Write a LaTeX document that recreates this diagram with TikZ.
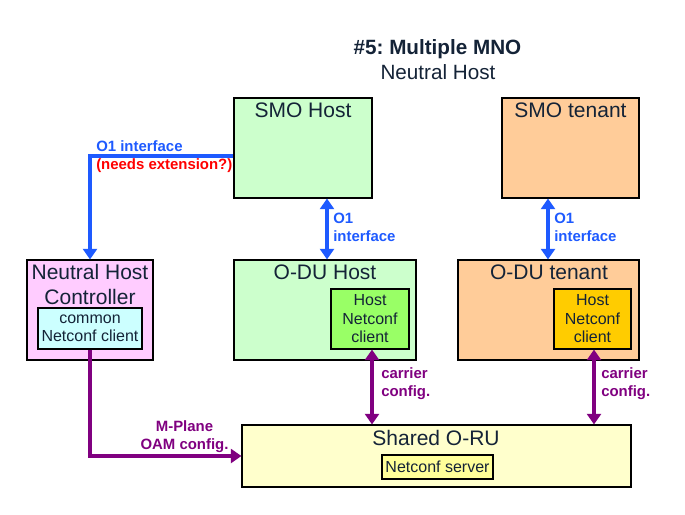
\documentclass[tikz,border=0pt]{standalone}
\usepackage{fontspec}
\setmainfont{Liberation Sans}
\usetikzlibrary{arrows.meta}
\frenchspacing
\definecolor{txt}{RGB}{20,35,55}
\definecolor{oblue}{RGB}{30,90,255}
\definecolor{ored}{RGB}{255,0,0}
\definecolor{opurple}{RGB}{128,0,128}
\definecolor{fsmo}{RGB}{204,255,204}
\definecolor{ften}{RGB}{255,204,153}
\definecolor{fnhc}{RGB}{255,204,255}
\definecolor{fcc}{RGB}{204,255,255}
\definecolor{fgreen}{RGB}{153,255,102}
\definecolor{fgold}{RGB}{255,204,0}
\definecolor{foru}{RGB}{255,255,204}
\definecolor{fsrv}{RGB}{255,255,153}
\tikzset{
  box/.style={draw=black, line width=0.8pt, inner sep=0pt, text=txt},
  inbox/.style={box, align=center, font=\fontsize{12}{13.9}\selectfont},
  btitle/.style={text=txt, align=center, inner sep=0pt, font=\fontsize{15.75}{18.75}\selectfont},
  lbl/.style={inner sep=0pt, align=left, anchor=west, font=\fontsize{11.2}{13.5}\selectfont\bfseries},
  bluearrow/.style={draw=oblue, line width=3pt, -{Triangle[width=10.5pt,length=8pt]}},
  bluedbl/.style={draw=oblue, line width=3pt, {Triangle[width=10.5pt,length=8pt]}-{Triangle[width=10.5pt,length=8pt]}},
  purplearrow/.style={draw=opurple, line width=3pt, -{Triangle[width=10.5pt,length=8pt]}},
  purpledbl/.style={draw=opurple, line width=3pt, {Triangle[width=10.5pt,length=8pt]}-{Triangle[width=10.5pt,length=8pt]}},
}
\begin{document}
\begin{tikzpicture}[x=0.75pt,y=-0.75pt]
\useasboundingbox (0,0) rectangle (685,514);
% title
\node[btitle, font=\fontsize{15.5}{18}\selectfont\bfseries] (t1) at (437.5,49) {\#5: Multiple MNO};
\node[btitle, font=\fontsize{15.5}{18}\selectfont] (t2) at (438,72) {Neutral Host};
% boxes
\node[box, fill=fsmo, minimum width=103.5pt, minimum height=75pt] (smoh) at (303,148) {};
\node[box, fill=ften, minimum width=102.75pt, minimum height=75pt] (smot) at (570.5,148) {};
\node[box, fill=fsmo, minimum width=136.5pt, minimum height=75pt] (oduh) at (325,310) {};
\node[box, fill=ften, minimum width=135.75pt, minimum height=75pt] (odut) at (548.5,310) {};
\node[box, fill=fnhc, minimum width=94.5pt, minimum height=75pt] (nhc) at (90,310) {};
\node[box, fill=foru, minimum width=291.75pt, minimum height=46.5pt] (oru) at (436.5,456) {};
% inner boxes
\node[inbox, fill=fgreen, minimum width=58.5pt, minimum height=45pt] (hcg) at (370,319) {Host\\Netconf\\client};
\node[inbox, fill=fgold, minimum width=57.75pt, minimum height=45pt] (hct) at (592.5,319) {Host\\Netconf\\client};
\node[inbox, fill=fcc, minimum width=78pt, minimum height=30.75pt] (cc) at (90,328.5) {common\\Netconf client};
\node[inbox, fill=fsrv, minimum width=83.25pt, minimum height=18pt] (srv) at (437.5,467) {Netconf server};
% box titles
\node[btitle] (smohT) at (303,110) {SMO Host};
\node[btitle] (smotT) at (570.5,110) {SMO tenant};
\node[btitle] (oduhT) at (325,272) {O-DU Host};
\node[btitle] (odutT) at (549,272) {O-DU tenant};
\node[btitle] (nhcT) at (90,284.5) {Neutral Host\\Controller};
\node[btitle] (oruT) at (436,438) {Shared O-RU};
% connector helper coordinates
\coordinate (o1y) at (0,156);
\coordinate (xh) at (327,0);
\coordinate (xt) at (548,0);
\coordinate (ph) at (372,0);
\coordinate (pt) at (594,0);
\coordinate (my) at (0,456);
% blue O1 connectors
\draw[bluearrow] (smoh.west |- o1y) -| (nhc.north);
\draw[bluedbl] (smoh.south -| xh) -- (oduh.north -| xh);
\draw[bluedbl] (smot.south -| xt) -- (odut.north -| xt);
% purple connectors
\draw[purpledbl] (hcg.south -| ph) -- (oru.north -| ph);
\draw[purpledbl] (hct.south -| pt) -- (oru.north -| pt);
\draw[purplearrow] (cc.south) |- (oru.west |- my);
% labels
\node[lbl, text=oblue] (l1) at (96,146) {O1 interface};
\node[lbl, text=ored] (l2) at (96,166) {(needs extension?)};
\node[lbl, text=oblue] (l3) at (333,227) {O1\\interface};
\node[lbl, text=oblue] (l4) at (554,227) {O1\\interface};
\node[lbl, text=opurple] (l5) at (381,384) {carrier\\config.};
\node[lbl, text=opurple] (l6) at (601,384) {carrier\\config.};
\node[lbl, text=opurple, align=center, anchor=center] (l7) at (184.5,437) {M-Plane\\OAM config.};
\end{tikzpicture}
\end{document}
